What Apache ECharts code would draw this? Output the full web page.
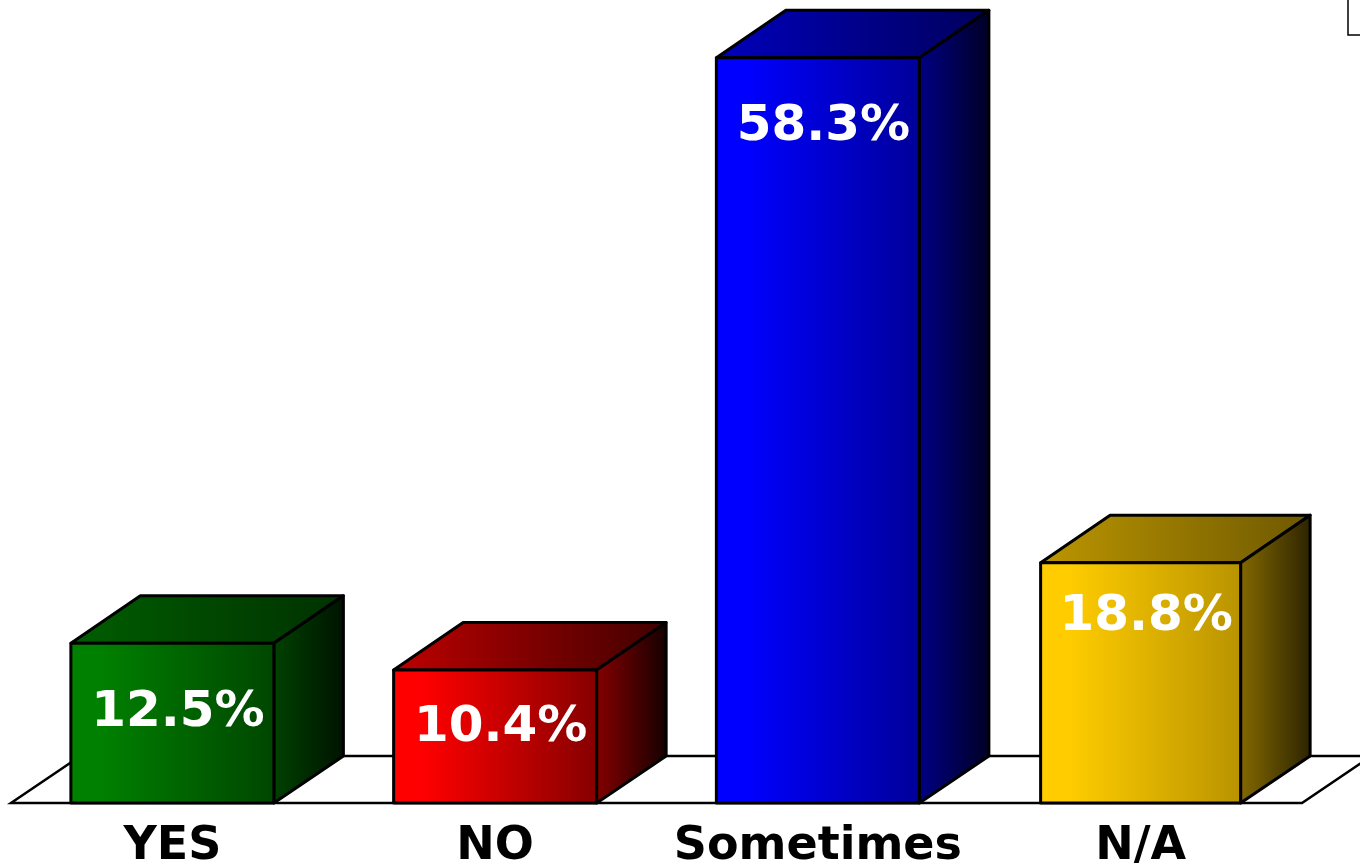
<!DOCTYPE html>
<html><head><meta charset="utf-8">
<style>html,body{margin:0;padding:0;background:#fff}#c{width:1360px;height:866px}</style>
<script src="https://cdn.jsdelivr.net/npm/echarts@6/dist/echarts.min.js"></script>
</head><body><div id="c"></div>
<script>
const categories = ['YES','NO','Sometimes','N/A'];
const percentValues = [12.5,10.4,58.3,18.8];
const baseColors = [[0,128,0],[255,0,0],[0,0,255],[255,204,0]];
const labelDrop = [68,56,67,52];
const barHalf = [101.5,101.5,101.5,100];
const frontEnd = [.55,.52,.6,.72];
const topEnd = [.38,.25,.36,.43];
const sideEnd = [.14,.08,.14,.17];

const DX = 69.5, DY = 47.5, FLOOR_DY = 47, LW = 3;
const shade = (c,k)=>`rgb(${c.map(v=>Math.round(v*k)).join(',')})`;
const grad = (c,k0,k1,hold)=>new echarts.graphic.LinearGradient(0,0,1,0,[
  {offset:0,color:shade(c,k0)},{offset:hold,color:shade(c,k0)},{offset:1,color:shade(c,k1)}]);
const poly = (pts,fill,z)=>({type:'polygon',shape:{points:pts},z2:z,
  style:{fill,stroke:'#000',lineWidth:LW,lineJoin:'round'}});

const chart = echarts.init(document.getElementById('c'),null,{renderer:'canvas'});
chart.setOption({
  animation:false,
  backgroundColor:'#fff',
  grid:{left:11,right:58,top:36,bottom:63,outerBoundsMode:'none'},
  xAxis:{type:'category',data:categories,axisLine:{show:false},axisTick:{show:false},
    axisLabel:{interval:0,margin:21,color:'#000',fontFamily:'DejaVu Sans',fontWeight:'bold',fontSize:46}},
  yAxis:{type:'value',min:0,max:60,show:false,splitLine:{show:false}},
  graphic:[{type:'polyline',shape:{points:[[1348,-2],[1348,35],[1362,35]]},
    style:{fill:null,stroke:'#000',lineWidth:1.5}}],
  series:[
    {type:'custom',clip:false,z:1,data:[0],silent:true,
     renderItem(p,api){
       const b0=api.coord([0,0]), b3=api.coord([3,0]);
       const xL=b0[0]-api.size([1,0])[0]/2, xR=b3[0]+api.size([1,0])[0]/2, y=b0[1];
       return {type:'polygon',shape:{points:[[xL,y],[xR,y],[xR+DX,y-FLOOR_DY],[xL+DX,y-FLOOR_DY]]},
         style:{fill:'#fff',stroke:'#000',lineWidth:2.5}};
     }},
    {type:'custom',clip:false,z:2,silent:true,
     data:percentValues.map((v,i)=>[i,v]),
     renderItem(p,api){
       const i=api.value(0), v=api.value(1), c=baseColors[i];
       const base=api.coord([i,0]), top=api.coord([i,v]);
       const l=base[0]-barHalf[i], r=base[0]+barHalf[i], b=base[1], t=top[1];
       return {type:'group',children:[
         poly([[l,t],[r,t],[r+DX,t-DY],[l+DX,t-DY]],grad(c,.72,topEnd[i],.05),1),
         poly([[r,t],[r+DX,t-DY],[r+DX,b-FLOOR_DY],[r,b]],grad(c,.5,sideEnd[i],.05),1),
         poly([[l,t],[r,t],[r,b],[l,b]],grad(c,1,frontEnd[i],.15),2),
         {type:'text',z2:3,style:{text:v.toFixed(1)+'%',x:base[0]+5.5,y:t+labelDrop[i]+2,
           align:'center',verticalAlign:'middle',fill:'#fff',
           fontFamily:'DejaVu Sans',fontWeight:'bold',fontSize:50}}
       ]};
     }}
  ]
});
</script></body></html>
